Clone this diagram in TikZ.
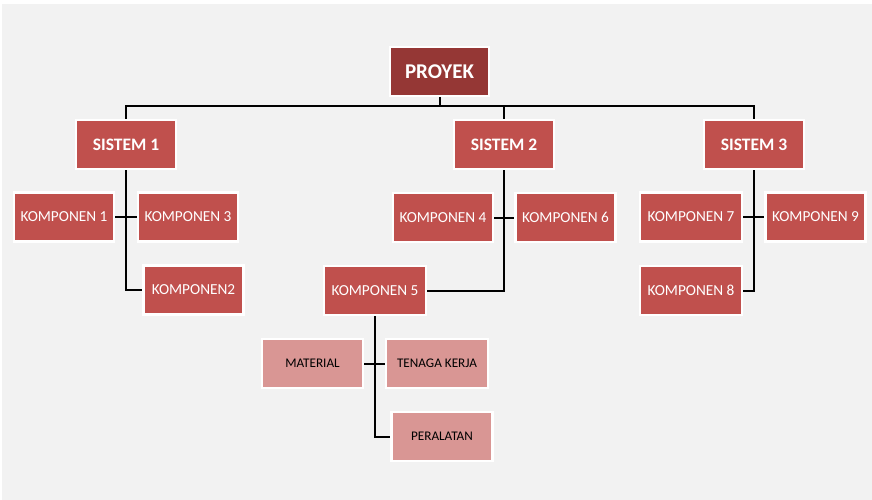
\documentclass[tikz,border=0pt]{standalone}
\usepackage{fontspec}
\setmainfont{Carlito}
\usetikzlibrary{backgrounds}
\definecolor{bgray}{HTML}{F2F2F2}
\definecolor{proyekred}{HTML}{953735}
\definecolor{boxred}{HTML}{C0504D}
\definecolor{boxpink}{HTML}{D99694}
\tikzset{
  basebox/.style={draw=white, line width=2.2pt, inner sep=0pt, align=center},
  topbox/.style={basebox, fill=proyekred, text=white, font=\fontsize{21}{24}\selectfont\bfseries, minimum width=99pt, minimum height=49pt},
  sisbox/.style={basebox, fill=boxred, text=white, font=\fontsize{17.5}{20}\selectfont\bfseries, minimum width=100pt, minimum height=49pt},
  kombox/.style={basebox, fill=boxred, text=white, font=\fontsize{15.3}{18}\selectfont, minimum width=100pt, minimum height=49pt},
  resbox/.style={basebox, fill=boxpink, text=black, font=\fontsize{13.2}{16}\selectfont, minimum width=101pt, minimum height=49pt},
  conn/.style={draw=black, line width=2pt}
}
\begin{document}
\begin{tikzpicture}[x=1pt,y=-1pt]
\useasboundingbox (0,0) rectangle (872,500);
% nodes
\node[topbox] (P) at (439.5,71.5) {PROYEK};
\node[sisbox] (S1) at (126,144.5) {SISTEM 1};
\node[sisbox] (S2) at (504,144.5) {SISTEM 2};
\node[sisbox] (S3) at (754,144.5) {SISTEM 3};
\node[kombox] (K1) at (64,217) {KOMPONEN 1};
\node[kombox] (K3) at (188,217) {KOMPONEN 3};
\node[kombox] (K2) at (193.5,290) {KOMPONEN2};
\node[kombox] (K4) at (443,217.5) {KOMPONEN 4};
\node[kombox] (K6) at (565.5,217.5) {KOMPONEN 6};
\node[kombox, minimum width=102pt] (K5) at (375,290.5) {KOMPONEN 5};
\node[kombox, minimum width=102pt] (K7) at (691,217) {KOMPONEN 7};
\node[kombox] (K9) at (815.5,217) {KOMPONEN 9};
\node[kombox, minimum width=102pt] (K8) at (691,290.5) {KOMPONEN 8};
\node[resbox] (MAT) at (312.5,363.5) {MATERIAL};
\node[resbox, minimum width=102pt] (TEN) at (437,363.5) {TENAGA KERJA};
\node[resbox] (PER) at (442,436.5) {PERALATAN};
\begin{pgfonlayer}{background}
  \fill[white] (0,0) rectangle (872,500);
  \fill[bgray] (2,4) rectangle (872,500);
  \coordinate (bus) at (0,106);
  \draw[conn] (P.south) -- (P.south |- bus) -| (S1.north);
  \draw[conn] (P.south |- bus) -| (S2.north);
  \draw[conn] (P.south |- bus) -| (S3.north);
  \draw[conn] (S1.south) |- (K2.west);
  \draw[conn] (K1.east) -- (K3.west);
  \draw[conn] (S2.south) |- (K5.east);
  \draw[conn] (K4.east) -- (K6.west);
  \draw[conn] (S3.south) |- (K8.east);
  \draw[conn] (K7.east) -- (K9.west);
  \draw[conn] (K5.south) |- (PER.west);
  \draw[conn] (MAT.east) -- (TEN.west);
\end{pgfonlayer}
\end{tikzpicture}
\end{document}
